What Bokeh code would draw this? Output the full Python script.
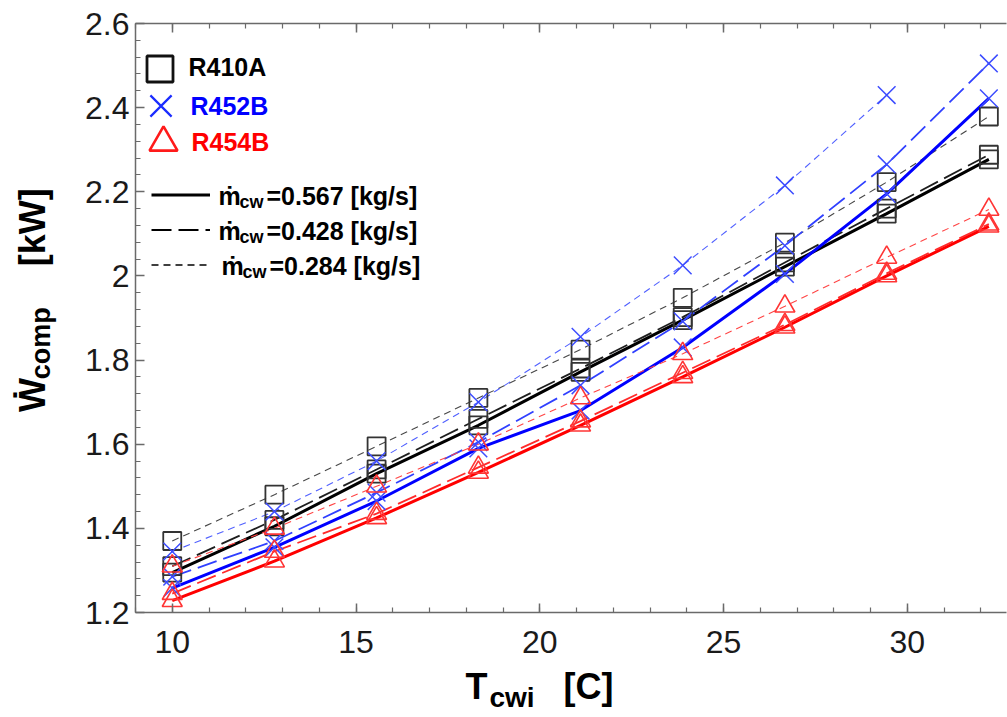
from bokeh.plotting import figure
from bokeh.layouts import row, column
from bokeh.models import (Range1d, LinearAxis, SingleIntervalTicker, CustomJSTickFormatter,
                          Legend, LegendItem, Label)
from bokeh.core.properties import value
from bokeh.embed import file_html
from bokeh.resources import INLINE

NAN = float("nan")

# ---------------- data ----------------
t_cwi = [10.0, 12.78, 15.56, 18.33, 21.11, 23.89, 26.67, 29.44, 32.22]

r410a_0567 = [1.295, 1.405, 1.530, 1.645, 1.772, 1.895, 2.022, 2.148, 2.277]
r410a_0428 = [1.310, 1.420, 1.540, 1.660, 1.780, 1.902, 2.032, 2.160, 2.288]
r410a_0284 = [1.370, 1.480, 1.595, 1.710, 1.825, 1.948, 2.079, 2.223, 2.379]

r452b_0567 = [1.258, 1.355, 1.465, 1.590, 1.680, 1.830, 2.005, 2.195, 2.422]
r452b_0428 = [1.285, 1.370, 1.485, 1.605, 1.740, 1.892, 2.072, 2.265, 2.505]
r452b_0284 = [1.345, 1.440, 1.560, 1.700, 1.855, 2.025, 2.215, 2.430]

r454b_0567 = [1.228, 1.322, 1.425, 1.533, 1.645, 1.760, 1.878, 2.000, 2.118]
r454b_0428 = [1.245, 1.345, 1.435, 1.545, 1.655, 1.770, 1.884, 2.006, 2.123]
r454b_0284 = [1.310, 1.400, 1.500, 1.600, 1.710, 1.815, 1.928, 2.044, 2.158]

refrigerants = ["R410A", "R452B", "R454B"]
flow_labels = ["=0.567 [kg/s]", "=0.428 [kg/s]", "=0.284 [kg/s]"]

# ---------------- layout constants (page pixels) ----------------
FONT = "Liberation Sans"
PAGE_W, PAGE_H = 1007, 717
YT_W = 60                 # strip holding the y-axis title
MAIN_H = 667              # main figure height; strip below holds x-axis title
FR_L, FR_T, FR_R, FR_B = 135, 23, 1006, 612   # frame edges on the page
XR = (9.0, 32.70)
YR = (1.2, 2.6)
BASE_SHIFT = 0.42         # alphabetic-baseline correction, in em

MAIN_W = PAGE_W - YT_W

def dx(px):  # page pixel x -> data x of the main plot
    return XR[0] + (px - FR_L) * (XR[1] - XR[0]) / (FR_R - FR_L)

def dy(py):  # page pixel y -> data y of the main plot
    return YR[1] - (py - FR_T) * (YR[1] - YR[0]) / (FR_B - FR_T)

p = figure(width=MAIN_W, height=MAIN_H, output_backend="svg", toolbar_location=None,
           x_range=Range1d(*XR), y_range=Range1d(*YR),
           min_border_left=FR_L - YT_W, min_border_right=PAGE_W - FR_R,
           min_border_top=FR_T, min_border_bottom=MAIN_H - FR_B,
           background_fill_color="white", border_fill_color="white")
p.outline_line_color = None
p.xgrid.visible = False
p.ygrid.visible = False

top_axis = LinearAxis(major_label_text_font_size="1px", major_label_standoff=0,
                      formatter=CustomJSTickFormatter(code="return '';"))
p.add_layout(top_axis, "above")

AX_COL = "#6a6a6a"
for ax in p.xaxis + p.yaxis:
    ax.axis_line_color = AX_COL
    ax.axis_line_width = 1.5
    ax.major_tick_line_color = AX_COL
    ax.minor_tick_line_color = AX_COL
    ax.major_tick_line_width = 1.5
    ax.minor_tick_line_width = 1.2
    ax.major_tick_in = 9
    ax.major_tick_out = 0
    ax.minor_tick_in = 5
    ax.minor_tick_out = 0
    ax.major_label_text_font = FONT
    ax.major_label_text_color = "#1a1a1a"
for ax in p.xaxis:
    ax.ticker = SingleIntervalTicker(interval=5, num_minor_ticks=5)
p.below[0].major_label_text_font_size = "32px"
p.below[0].major_label_standoff = 18
p.yaxis.ticker = SingleIntervalTicker(interval=0.2, num_minor_ticks=5)
p.yaxis.major_label_text_font_size = "32px"
p.yaxis.major_label_standoff = 6
p.yaxis.formatter = CustomJSTickFormatter(code="return String(parseFloat(tick.toFixed(2)));")

# ---------------- series ----------------
styles = {
    "solid": dict(line_dash="solid", width=3.0),
    "long": dict(line_dash="20 7", width=1.8),
    "short": dict(line_dash="7 5", width=1.1),
}
series = [
    ("R410A", "solid", r410a_0567, "#000000"),
    ("R410A", "long", r410a_0428, "#1e1e1e"),
    ("R410A", "short", r410a_0284, "#474747"),
    ("R452B", "solid", r452b_0567, "#0000ff"),
    ("R452B", "long", r452b_0428, "#3040ff"),
    ("R452B", "short", r452b_0284, "#5060ff"),
    ("R454B", "solid", r454b_0567, "#ff0000"),
    ("R454B", "long", r454b_0428, "#ff2a2a"),
    ("R454B", "short", r454b_0284, "#ff4545"),
]
markers = {"R410A": ("square", 18, "#333333", 1.8),
           "R452B": ("x", 25, "#3d4dff", 1.5),
           "R454B": ("triangle", 20, "#ff3535", 1.6)}

for ref, sty, ys, col in series:
    xs = t_cwi[:len(ys)]
    p.line(xs, ys, line_color=col, line_width=styles[sty]["width"], line_dash=styles[sty]["line_dash"])
for ref, sty, ys, col in series:
    xs = t_cwi[:len(ys)]
    mk, sz, mc, mw = markers[ref]
    p.scatter(xs, ys, marker=mk, size=sz, fill_color=None, line_color=mc, line_width=mw)

# ---------------- legends ----------------
def glyph_legend(renderers, G, loc, glyph_w=None):
    lg = Legend(items=[LegendItem(label=value(""), renderers=[r]) for r in renderers],
                location=loc, glyph_width=glyph_w or G, glyph_height=G, padding=0, margin=0, spacing=0,
                border_line_color=None, background_fill_alpha=0, label_text_font_size="1px",
                label_height=1, label_width=1, label_standoff=0)
    p.add_layout(lg)

def main_text(px, base, txt, size, color="black"):
    p.add_layout(Label(x=dx(px), y=dy(base - BASE_SHIFT * size), text=txt, text_font=FONT,
                       text_font_style="bold", text_font_size=f"{size}px",
                       text_baseline="alphabetic", text_color=color))

leg_sq = p.scatter(x=[NAN], y=[NAN], marker="square", fill_color=None, line_color="#111111", line_width=2.8)
leg_x = p.scatter(x=[NAN], y=[NAN], marker="x", fill_color=None, line_color="#1a2cff", line_width=2.2)
leg_tr = p.scatter(x=[NAN], y=[NAN], marker="triangle", fill_color=None, line_color="#ff1a1a", line_width=2.6)
glyph_legend([leg_sq], 65, (-8, 511))
glyph_legend([leg_x], 75, (-12, 469))
glyph_legend([leg_tr], 70, (-7, 435))

ref_colors = ["#000000", "#0000ff", "#ff0000"]
ref_pos = [(188, 77), (190, 116), (191, 152)]
for name, col, (px, base) in zip(refrigerants, ref_colors, ref_pos):
    main_text(px, base, name, 25, col)

leg_lines = [p.line(x=[NAN, NAN], y=[NAN, NAN], line_color="black",
                    line_width=styles[s]["width"] + (0.2 if s != "solid" else 0),
                    line_dash=styles[s]["line_dash"]) for s in ["solid", "long", "short"]]
glyph_legend(leg_lines, 35, (16, 330), glyph_w=59)

for i, lab in enumerate(flow_labels):
    base = 206 + 35 * i
    x0 = 218 + (3 if i == 2 else 0)
    main_text(x0, base, "\u1e41", 25)
    main_text(x0 + 21, base + 3, "cw", 18)
    main_text(x0 + 48, base, lab, 25)

# ---------------- axis-title strips (strip-local pixel coordinates) ----------------
def strip(w, h):
    f = figure(width=w, height=h, output_backend="svg", toolbar_location=None,
               x_range=Range1d(0, w), y_range=Range1d(h, 0), x_axis_type=None, y_axis_type=None,
               min_border=0, background_fill_color="white", border_fill_color="white")
    f.outline_line_color = None
    return f

ytitle = strip(YT_W, MAIN_H)
xtitle = strip(PAGE_W, PAGE_H - MAIN_H)

def title(f, ox, oy, px, py, txt, size, angle=0):
    # (px, py): page position of the text's baseline start; ox, oy: strip origin on the page
    if angle == 0:
        py = py - BASE_SHIFT * size
    else:
        px = px - BASE_SHIFT * size
    f.add_layout(Label(x=px - ox, y=py - oy, text=txt, text_font=FONT, text_font_style="bold",
                       text_font_size=f"{size}px", text_baseline="alphabetic", text_align="left",
                       angle=angle, angle_units="deg", text_color="black"))

title(xtitle, 0, MAIN_H, 465, 701, "T", 36)
title(xtitle, 0, MAIN_H, 489, 709, "cwi", 28)
title(xtitle, 0, MAIN_H, 563, 701, "[C]", 36)

title(ytitle, 0, 0, 47, 440, "\u1e86", 36, 90)
title(ytitle, 0, 0, 52, 403, "comp", 27, 90)
title(ytitle, 0, 0, 47, 275, "[kW]", 36, 90)

layout = column(row(ytitle, p), xtitle)
open("out.html", "w").write(file_html(layout, INLINE))
